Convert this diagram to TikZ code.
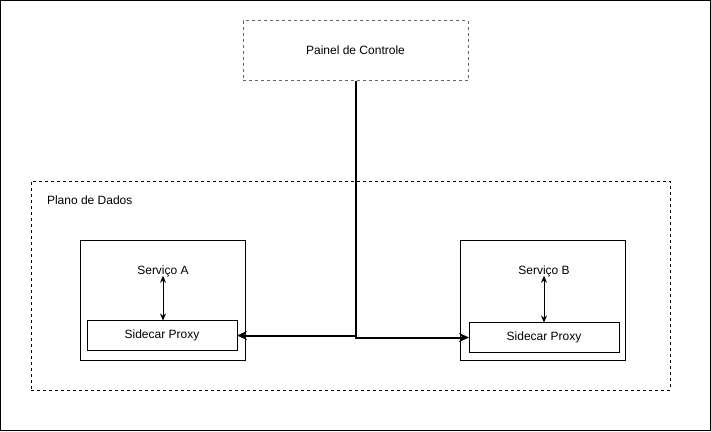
\documentclass[tikz,border=0pt]{standalone}
\usepackage{fontspec}
\setmainfont{Liberation Sans}
\usetikzlibrary{arrows.meta}
\begin{document}
\begin{tikzpicture}[x=1pt,y=-1pt,
  font=\fontsize{12}{14}\selectfont,
  box/.style={draw=black,line width=1pt,inner sep=0pt,outer sep=0pt,fill=white},
  dbox/.style={draw=black,line width=1pt,dashed,dash pattern=on 3pt off 3pt,inner sep=0pt,outer sep=0pt},
  lbl/.style={inner sep=0pt,outer sep=0pt,text height=9pt,text depth=2.5pt},
  conn/.style={line width=2pt,-{Stealth[length=10pt,width=9pt]}},
  small/.style={line width=1pt,{Stealth[length=7pt,width=6pt]}-{Stealth[length=7pt,width=6pt]}}]
\useasboundingbox (0,0) rectangle (711,431);
\node[box,draw=black,fill=none,minimum width=710pt,minimum height=430pt] (frame) at (355.5,215.5) {};
\node[dbox,draw=black!60,minimum width=225pt,minimum height=60pt] (cp) at (355.5,50.5) {Painel de Controle};
\node[dbox,minimum width=639pt,minimum height=209pt] (dp) at (350.5,285.5) {};
\node[lbl,anchor=west] (dpl) at (47,201) {Plano de Dados};
\node[box,minimum width=165pt,minimum height=120pt] (sa) at (162.5,300.5) {};
\node[lbl] (la) at (163,271) {Serviço A};
\node[box,minimum width=150pt,minimum height=30pt] (pa) at (162,335.5) {Sidecar Proxy};
\node[box,minimum width=165pt,minimum height=120pt] (sb) at (542.5,300.5) {};
\node[lbl] (lb) at (544,271) {Serviço B};
\node[box,minimum width=150pt,minimum height=30pt] (pb) at (544,337.5) {Sidecar Proxy};
\draw[small] ([yshift=1pt]la.south) -- (la.south |- pa.north);
\draw[small] ([yshift=1pt]lb.south) -- (lb.south |- pb.north);
\draw[conn] (cp.south) |- (pa.east);
\draw[conn] (cp.south) |- (pb.west);
\end{tikzpicture}
\end{document}
